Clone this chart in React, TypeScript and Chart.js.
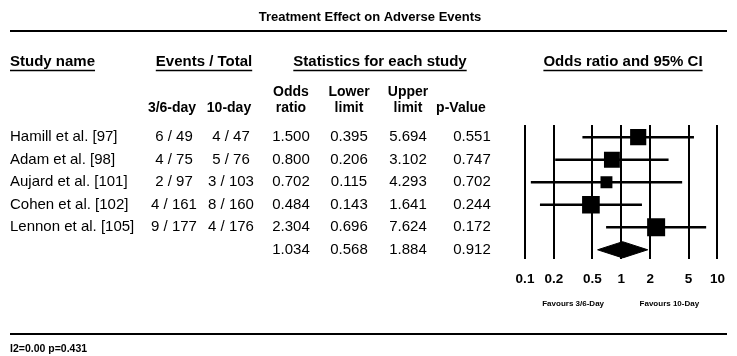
import React, { useEffect, useRef } from "react";
import { Chart, registerables } from "chart.js";

Chart.register(...registerables);

// ---------- data ----------
const chartTitle = "Treatment Effect on Adverse Events";
const studyNames = [
  "Hamill et al. [97]",
  "Adam et al. [98]",
  "Aujard et al. [101]",
  "Cohen et al. [102]",
  "Lennon et al. [105]",
];
const eventsShort = ["6 / 49", "4 / 75", "2 / 97", "4 / 161", "9 / 177"];
const eventsLong = ["4 / 47", "5 / 76", "3 / 103", "8 / 160", "4 / 176"];
const oddsRatios = [1.5, 0.8, 0.702, 0.484, 2.304];
const lowerLimits = [0.395, 0.206, 0.115, 0.143, 0.696];
const upperLimits = [5.694, 3.102, 4.293, 1.641, 7.624];
const pValues = [0.551, 0.747, 0.702, 0.244, 0.172];
const summaryOR = 1.034;
const summaryLower = 0.568;
const summaryUpper = 1.884;
const summaryP = 0.912;
const xTickValues = [0.1, 0.2, 0.5, 1, 2, 5, 10];
const favoursLeft = "Favours 3/6-Day";
const favoursRight = "Favours 10-Day";
const heterogeneity = "I2=0.00 p=0.431";

// ---------- style / layout ----------
const FONT = '"Liberation Sans", Arial, sans-serif';
const BLACK = "#000000";
const COL = { study: 10, ev1: 174, ev2: 231, or: 291, lo: 349, up: 408, p: 472 };

// square size follows inverse-variance weight derived from the CI
const weights = lowerLimits.map((lo, i) => {
  const se = (Math.log(upperLimits[i]) - Math.log(lo)) / 3.92;
  return 1 / (se * se);
});
const squareRadius = weights.map((w) => (11 * Math.sqrt(w)) / 2 / Math.SQRT1_2);

const textPlugin = {
  id: "forestText",
  afterDraw(chart: any) {
    const ctx = chart.ctx as CanvasRenderingContext2D;
    const ys = chart.scales.y;
    const xs = chart.scales.x;
    ctx.save();
    ctx.fillStyle = BLACK;
    ctx.strokeStyle = BLACK;
    ctx.textBaseline = "middle";
    const font = (w: string, s: number) => `${w} ${s}px ${FONT}`;
    const text = (t: string, x: number, y: number, align: CanvasTextAlign) => {
      ctx.textAlign = align;
      ctx.fillText(t, x, y);
    };
    const hline = (x1: number, x2: number, y: number, w: number) => {
      ctx.lineWidth = w;
      ctx.beginPath();
      ctx.moveTo(x1, y);
      ctx.lineTo(x2, y);
      ctx.stroke();
    };
    const underlined = (t: string, x: number, y: number, align: CanvasTextAlign) => {
      text(t, x, y, align);
      const w = ctx.measureText(t).width;
      const x1 = align === "left" ? x : x - w / 2;
      hline(x1, x1 + w, y + 8.5, 1.5);
    };

    // title + top rule
    ctx.font = font("bold", 13);
    text(chartTitle, 370, 17, "center");
    hline(10, 727, 31, 2);

    // group headers
    ctx.font = font("bold", 15);
    underlined("Study name", COL.study, 62, "left");
    underlined("Events / Total", 204, 62, "center");
    underlined("Statistics for each study", 380, 62, "center");
    underlined("Odds ratio and 95% CI", 623, 62, "center");

    // column headers
    ctx.font = font("bold", 14);
    text("Odds", COL.or, 92, "center");
    text("Lower", COL.lo, 92, "center");
    text("Upper", COL.up, 92, "center");
    text("3/6-day", 172, 108, "center");
    text("10-day", 229, 108, "center");
    text("ratio", COL.or, 108, "center");
    text("limit", COL.lo, 108, "center");
    text("limit", COL.up, 108, "center");
    text("p-Value", 461, 108, "center");

    // rows
    ctx.font = font("normal", 15);
    studyNames.forEach((name, i) => {
      const y = ys.getPixelForValue(i);
      text(name, COL.study, y, "left");
      text(eventsShort[i], COL.ev1, y, "center");
      text(eventsLong[i], COL.ev2, y, "center");
      text(oddsRatios[i].toFixed(3), COL.or, y, "center");
      text(lowerLimits[i].toFixed(3), COL.lo, y, "center");
      text(upperLimits[i].toFixed(3), COL.up, y, "center");
      text(pValues[i].toFixed(3), COL.p, y, "center");
    });
    const ySum = ys.getPixelForValue(studyNames.length);
    text(summaryOR.toFixed(3), COL.or, ySum, "center");
    text(summaryLower.toFixed(3), COL.lo, ySum, "center");
    text(summaryUpper.toFixed(3), COL.up, ySum, "center");
    text(summaryP.toFixed(3), COL.p, ySum, "center");

    // favours labels
    ctx.font = font("bold", 8);
    text(favoursLeft, (xs.getPixelForValue(0.2) + xs.getPixelForValue(0.5)) / 2, 304, "center");
    text(favoursRight, (xs.getPixelForValue(2) + xs.getPixelForValue(5)) / 2, 304, "center");

    // bottom rule + heterogeneity
    hline(10, 727, 334, 2);
    ctx.font = font("bold", 10.5);
    text(heterogeneity, 10, 349, "left");
    ctx.restore();
  },
};

export default function App() {
  const canvasRef = useRef<HTMLCanvasElement | null>(null);

  useEffect(() => {
    if (!canvasRef.current) return;
    const ciDatasets = studyNames.map((_, i) => ({
      type: "scatter" as const,
      data: [
        { x: lowerLimits[i], y: i },
        { x: upperLimits[i], y: i },
      ],
      showLine: true,
      borderColor: BLACK,
      borderWidth: 2.5,
      pointRadius: 0,
      order: 3,
    }));
    const n = studyNames.length;
    const diamondHalf = 0.36;
    const chart = new Chart(canvasRef.current, {
      type: "scatter",
      data: {
        datasets: [
          ...ciDatasets,
          {
            data: oddsRatios.map((v, i) => ({ x: v, y: i })),
            pointStyle: "rect",
            pointRadius: squareRadius,
            pointBackgroundColor: BLACK,
            pointBorderColor: BLACK,
            pointBorderWidth: 0,
            order: 1,
          },
          {
            data: [
              { x: summaryLower, y: n },
              { x: summaryOR, y: n - diamondHalf },
              { x: summaryUpper, y: n },
              { x: summaryOR, y: n + diamondHalf },
              { x: summaryLower, y: n },
            ],
            showLine: true,
            fill: "shape",
            backgroundColor: BLACK,
            borderColor: BLACK,
            borderWidth: 1,
            pointRadius: 0,
            order: 2,
          } as any,
        ],
      },
      options: {
        animation: false,
        responsive: false,
        layout: { padding: { left: 525, right: 17, top: 125, bottom: 57 } },
        plugins: { legend: { display: false }, tooltip: { enabled: false } },
        scales: {
          x: {
            type: "logarithmic",
            min: 0.1,
            max: 10,
            afterBuildTicks: (s: any) => {
              s.ticks = xTickValues.map((v) => ({ value: v }));
            },
            ticks: {
              callback: (v: any) => String(v),
              color: BLACK,
              font: { family: FONT, size: 13.5, weight: "bold" },
              padding: 12,
              autoSkip: false,
              maxRotation: 0,
            },
            grid: { color: BLACK, lineWidth: 2, drawTicks: false },
            border: { display: false },
          },
          y: {
            type: "linear",
            reverse: true,
            min: -0.54,
            max: 5.4,
            display: false,
          },
        },
      },
      plugins: [textPlugin],
    } as any);
    return () => chart.destroy();
  }, []);

  return (
    <div style={{ position: "absolute", left: 0, top: 0, width: 737, height: 356, background: "#fff" }}>
      <canvas ref={canvasRef} width={737} height={356} />
    </div>
  );
}
